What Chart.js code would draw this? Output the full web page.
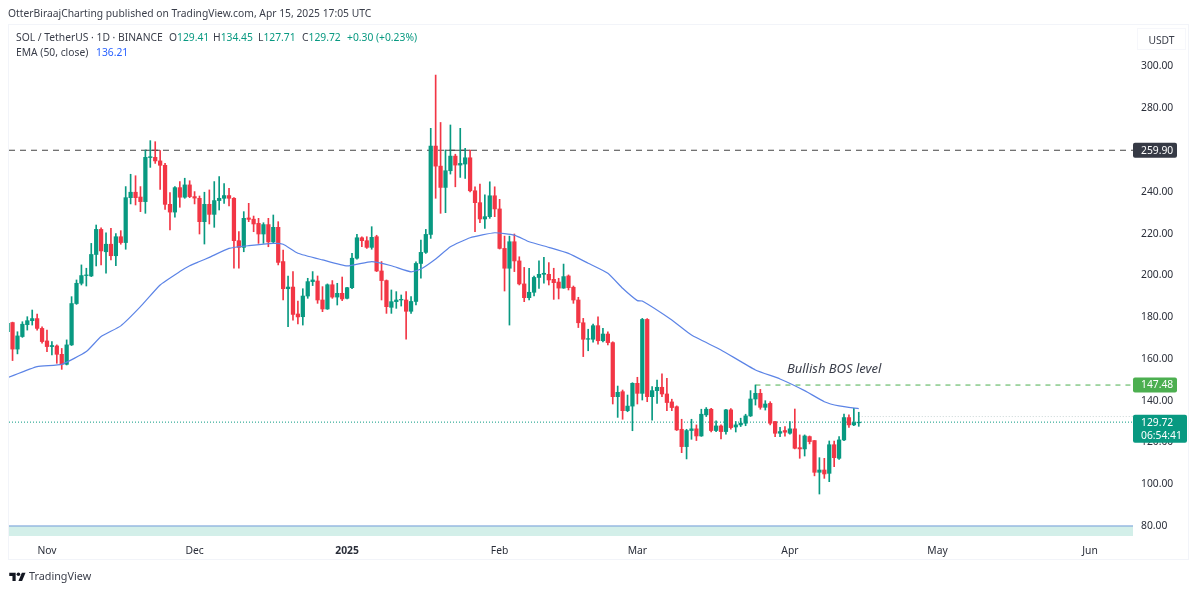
<!DOCTYPE html>
<html>
<head>
<meta charset="utf-8">
<title>SOL / TetherUS</title>
<script src="https://cdn.jsdelivr.net/npm/chart.js@4"></script>
<style>
  html, body { margin: 0; padding: 0; background: #fff; }
  body { width: 1200px; height: 592px; position: relative; overflow: hidden; font-family: "Noto Sans", sans-serif; color: #3a3e4a; }
  #grafico { position: absolute; left: 0; top: 0; }
  .txt { position: absolute; white-space: nowrap; font-size: 10.3px; line-height: 14px; }
  .teal { color: #089981; }
  #moldura { position: absolute; left: 8px; top: 24px; width: 1181px; height: 536px; border: 1px solid #f2f4f9; box-sizing: border-box; }
  #usdt { position: absolute; left: 1137px; top: 28px; width: 49px; height: 22px; line-height: 22px; text-align: center; font-size: 10.3px; border: 1px solid #f6f7fb; box-sizing: border-box; }
  #logo { position: absolute; left: 9px; top: 571px; }
</style>
</head>
<body>
<canvas id="grafico" width="1200" height="592"></canvas>
<div id="moldura"></div>
<div class="txt" style="left:8px;top:6px">OtterBiraajCharting published on TradingView.com, Apr 15, 2025 17:05 UTC</div>
<div class="txt" style="left:16px;top:30px">SOL / TetherUS · 1D · BINANCE</div>
<div class="txt" style="left:169px;top:30px">O<span class="teal">129.41</span></div>
<div class="txt" style="left:213px;top:30px">H<span class="teal">134.45</span></div>
<div class="txt" style="left:258px;top:30px">L<span class="teal">127.71</span></div>
<div class="txt" style="left:302px;top:30px">C<span class="teal">129.72</span></div>
<div class="txt teal" style="left:347px;top:30px">+0.30 (+0.23%)</div>
<div class="txt" style="left:16px;top:45px">EMA (50, close)</div>
<div class="txt" style="left:96px;top:45px;color:#2962ff">136.21</div>
<div id="usdt">USDT</div>
<svg id="logo" width="17" height="11" viewBox="0 0 36 24"><path fill="#131722" d="M14 22H7V11H0V4h14v18zM28 22h-8l7.5-18h8L28 22z"/><circle fill="#131722" cx="20" cy="7" r="4"/></svg>
<div class="txt" style="left:29px;top:569px;font-size:10.8px">TradingView</div>

<script>
const primeiroDia = '2024-10-24';

// ============================
// VELAS DIÁRIAS (out/24 a abr/25)
// ============================
const aberturas = [
  173, 177.4, 164.7, 170.7, 176.4, 178.3, 179.3, 174.6,
  168.6, 165.9, 166.2, 162.2, 157.4, 166.7, 186.5, 196.2, 199.9, 199.7, 210, 222, 211.3, 214.9, 209.4, 218.5, 215.7, 237.2, 239.8, 237.5, 235.3, 256.4, 256.5, 254.8, 252.7, 234, 230.3, 242, 237.4, 243.3,
  237.7, 236.9, 225.7, 234, 229.2, 235.8, 236.9, 238.2, 236.9, 216.6, 213.4, 227.5, 226.9, 224.9, 219.8, 224.3, 216, 223, 206.6, 193.6, 194.4, 181.5, 180.2, 190.1, 197, 197.3, 188.2, 183.9, 195.5, 189.6, 191.4,
  189, 194.1, 208.2, 218, 216.6, 213.4, 218.5, 202.1, 197.5, 184.7, 187.4, 188.2, 188.2, 182.8, 187.5, 205.7, 211, 219.6, 261.9, 252.3, 242.1, 250.1, 257.1, 252.8, 253.3, 256.3, 240.5, 234.8, 227, 228.1, 238.1,
  231.8, 212.9, 203.4, 216.1, 206.9, 195.9, 189.3, 191.9, 199, 200.5, 200.5, 198.1, 196.8, 193.9, 199.7, 194.3, 188.2, 177.3, 169.4, 169.4, 175.9, 168.7, 171.9, 167.8, 141.9, 144.3, 135.2, 137.4,
  148.3, 143.5, 178.9, 141.9, 144.8, 146.4, 143.2, 139.4, 137.1, 126.3, 118, 125.7, 126.5, 123.1, 133.2, 135.9, 125.7, 127.9, 125.2, 135.6, 127.4, 128.4, 129.2, 132.7, 140.8, 143.5, 136.8, 138.7, 130, 124.4, 125.7,
  124.4, 126.5, 117.5, 116.9, 122.8, 120.9, 105.7, 106.8, 105.2, 118.9, 112.4, 121.2, 131.9, 128.4, 129.41
];
const maximas = [
  177.5, 177.6, 173, 177.8, 180.2, 183.4, 181.5, 175.4,
  173.8, 168.3, 166.7, 165, 169.1, 189.8, 197.8, 205, 203.4, 215.3, 224.1, 222.8, 220.4, 222.5, 220, 221.4, 242.5, 248.4, 247.7, 242.5, 260, 264.5, 264, 259.7, 253.6, 239.6, 242.5, 244.9, 246.5, 245.3,
  240.1, 238, 239.8, 240.9, 244.9, 247.3, 244, 241.7, 237.2, 220.9, 230.5, 234.5, 228.4, 227.3, 225.2, 227.3, 228.9, 225.7, 212.1, 199.7, 201.8, 187.7, 193.6, 198.6, 201.8, 199.7, 194.6, 195.9, 197.5, 196.2, 199.2,
  194.3, 210.6, 219.6, 218.5, 218.5, 223.3, 219.2, 206.6, 197.8, 193, 192.2, 190.6, 192.2, 189.8, 206.5, 216.9, 222, 270.4, 295.9, 273.2, 260, 272, 258, 270.4, 260.8, 260, 242.4, 243.7, 238.5, 244.8, 242.4,
  236.4, 218.8, 218.8, 219.8, 208.9, 203.8, 203.4, 199.7, 207, 208.6, 206.1, 203.4, 198.6, 205.4, 200.2, 194.9, 189.5, 179.4, 174.2, 176.7, 180.2, 174.6, 173, 168.2, 147, 145.1, 142.7, 148.6,
  151.2, 179.4, 179.3, 146.7, 149.9, 152.8, 150.7, 140.7, 137.5, 131.1, 126.3, 131.1, 128.4, 135.9, 136.7, 136.3, 130.4, 128.4, 135.9, 136.2, 130, 131.6, 133.5, 144.8, 147.5, 145.4, 140, 139.5, 130, 127.2, 127.6,
  130, 136, 123.6, 123.6, 123.1, 120.9, 112.7, 112.4, 120.7, 120.7, 122.8, 133.6, 133.2, 136.3, 134.45
];
const minimas = [
  171, 159.2, 162.4, 170.3, 173.8, 176.2, 173.8, 167.5,
  163.5, 161.9, 157.9, 155, 157.1, 166.4, 186.1, 195.4, 194.9, 199.4, 204.5, 205, 201, 207.4, 204.6, 214.9, 212.5, 234.2, 233.7, 230.5, 229.7, 251.7, 253.6, 241.2, 231.6, 221.7, 227.8, 232.6, 236.9, 237.2,
  234.2, 219.8, 215, 224.6, 223, 231.3, 234.5, 233.2, 203.4, 203.4, 211.3, 225.7, 220.9, 215.3, 215.3, 213.7, 215.3, 205, 188.2, 175.4, 178.6, 176.7, 176.2, 189, 195.1, 186.6, 182.6, 183.7, 189, 185.8, 187.9,
  188.7, 193.6, 207.7, 213.7, 212.9, 212.5, 201.8, 188.2, 181.8, 181.8, 184.2, 185.3, 169.4, 181.8, 185.8, 198.6, 210.5, 217.7, 236.9, 229.7, 230, 248.5, 242.4, 246.9, 246.4, 240, 220.9, 225.2, 222.5, 227.3, 228.1,
  212.6, 192.5, 176.2, 201.8, 195.4, 187.4, 188.2, 190.1, 193.8, 196.2, 195.4, 188.5, 188.7, 193.8, 193, 186.6, 175, 161.1, 163.9, 168, 167.1, 168.1, 166.7, 138.4, 132, 131.1, 134.7, 125.6,
  138.4, 140.3, 139.5, 130.7, 138.7, 141.9, 135.2, 135.2, 125.7, 115.1, 112.1, 121.5, 120.9, 122.9, 132.4, 125, 125.2, 121.7, 124, 126.3, 125, 127.6, 128, 132.4, 137.9, 135.9, 135.5, 128.4, 122.8, 122.8, 123,
  124, 116.9, 112.4, 113.5, 119.3, 104, 95.3, 102.8, 101.2, 108.4, 111.9, 120.9, 127.2, 128, 127.71
];
const fechamentos = [
  177, 164.7, 171, 176.6, 178.3, 179.3, 174.6, 168.3,
  165.9, 166.4, 162.2, 157.4, 166.7, 186.5, 196.2, 199.9, 200.2, 210, 222, 211.7, 214.9, 209.4, 218.5, 215.7, 237.2, 239.8, 237.2, 235.3, 256.5, 256.8, 254.8, 252.7, 234, 230.3, 242, 237.4, 243.3, 237.7,
  237, 225.7, 234, 229.2, 235.8, 236.9, 238.2, 236.9, 216.6, 213.4, 227.3, 226.8, 224.6, 219.8, 224.3, 216, 223, 206.2, 193.6, 194.4, 181.3, 180.1, 190.1, 197, 197.8, 188.2, 183.9, 195.5, 189.6, 191.4, 188.7,
  194.1, 208.2, 218, 216.6, 213.4, 218.2, 202.1, 197.5, 185, 187.4, 188.2, 188.5, 182.8, 187.5, 205.7, 211, 219.6, 261.9, 252.3, 242.1, 250.1, 257.1, 252.8, 253.6, 256.3, 240.5, 234.8, 227, 228.1, 238.1, 231.8,
  212.9, 203.4, 216.1, 206.9, 195.9, 189.3, 191.9, 199, 200.5, 201, 197.8, 196.5, 193.9, 199.4, 194.1, 188.2, 177.3, 169.4, 169.7, 175.9, 168.7, 171.9, 167.8, 141.9, 144, 135.2, 137.4, 148.3,
  143.5, 178.9, 141.9, 144.8, 146.4, 143.2, 139.1, 136.7, 126, 118, 125.7, 126.5, 123.1, 133.5, 135.9, 125.7, 127.9, 125.2, 135.6, 127.1, 128.4, 129.2, 132.7, 140.8, 143.5, 136.8, 138.4, 129.2, 124.4, 125.2, 124.9,
  126.5, 117.2, 116.9, 123.1, 120.4, 105.7, 106.8, 104.9, 118.9, 112.7, 121.2, 131.9, 128.4, 129.5, 129.72
];

// ============================
// EMA 50
// ============================
const emaDatas = [
  '2024-10-24', '2024-10-30', '2024-11-04', '2024-11-09', '2024-11-12', '2024-11-16', '2024-11-20', '2024-11-24', '2024-11-28', '2024-11-30',
  '2024-12-02', '2024-12-04', '2024-12-08', '2024-12-12', '2024-12-17', '2024-12-19', '2024-12-22', '2024-12-27', '2025-01-01', '2025-01-06',
  '2025-01-10', '2025-01-14', '2025-01-16', '2025-01-19', '2025-01-22', '2025-01-26', '2025-01-31', '2025-02-04', '2025-02-07', '2025-02-11',
  '2025-02-15', '2025-02-19', '2025-02-23', '2025-02-26', '2025-03-01', '2025-03-02', '2025-03-08', '2025-03-12', '2025-03-18', '2025-03-25',
  '2025-03-30', '2025-04-04', '2025-04-08', '2025-04-11', '2025-04-15'
];
const emaValores = [
  151, 156.3, 157.4, 163.5, 170.7, 175.8, 185, 195.4, 201.8, 204.6,
  206.6, 208.6, 212.9, 214.2, 215.3, 214.9, 210.6, 207.4, 204.5, 206.6,
  204.6, 201.7, 203, 207.8, 213.7, 218, 220.4, 219.3, 216.1, 213.4,
  210.5, 205.8, 201, 193.8, 187.9, 187.7, 178.6, 171.4, 164.3, 154.7,
  150.4, 144.8, 139.5, 137.5, 136.2
];

// ============================
// NÍVEIS E EIXOS
// ============================
const resistencia = 259.9;
const toposResistencia = [['2024-11-21', '2024-11-24'], ['2025-01-21', '2025-01-26']];
const nivelBos = 147.48;
const inicioBos = '2025-03-25';
const ultimoPreco = 129.72;
const abertoPontilhado = 132.4;
const ultimaVela = '2025-04-15';
const nivelFaixa = 80;

const precosEixo = [80, 100, 120, 140, 160, 180, 200, 220, 240, 260, 280, 300];
const mesesDatas = ['2024-11-01', '2024-12-01', '2025-01-01', '2025-02-01', '2025-03-01', '2025-04-01', '2025-05-01', '2025-06-01'];
const mesesRotulos = ['Nov', 'Dec', '2025', 'Feb', 'Mar', 'Apr', 'May', 'Jun'];

const VERDE = '#089981';
const VERMELHO = '#f23645';
const FONTE = '"Noto Sans", sans-serif';

const xMin = 0.28, xMax = 228.74;
const yMin = 75.2, yMax = 320.35;

function diaDe(data) {
  return (Date.parse(data) - Date.parse(primeiroDia)) / 86400000;
}

const coresVelas = aberturas.map((a, i) => fechamentos[i] >= a ? VERDE : VERMELHO);

function linhaHorizontal(valor, de, ate, cor, extra) {
  return Object.assign({
    type: 'line',
    data: [{ x: de, y: valor }, { x: ate, y: valor }],
    borderColor: cor,
    borderWidth: 1,
    pointRadius: 0,
    order: 3
  }, extra);
}

// ============================
// ETIQUETAS DE PREÇO
// ============================
const etiquetas = {
  id: 'etiquetas',
  afterDraw(chart) {
    const ctx = chart.ctx;
    const y = chart.scales.y;
    const x = chart.scales.x;
    const esquerda = x.right;

    function caixa(valor, largura, altura, cor, linhas) {
      const yc = y.getPixelForValue(valor);
      const topo = yc - (linhas.length > 1 ? 7.5 : altura / 2);
      ctx.fillStyle = cor;
      ctx.beginPath();
      ctx.roundRect(esquerda, topo, largura, altura, 2);
      ctx.fill();
      ctx.font = '10.3px ' + FONTE;
      ctx.textBaseline = 'middle';
      ctx.textAlign = 'left';
      ctx.fillStyle = '#fff';
      linhas.forEach((t, i) => ctx.fillText(t, esquerda + 8, topo + 8 + i * 13));
    }

    ctx.save();
    caixa(resistencia, 44, 15, '#363a45', [resistencia.toFixed(2)]);
    caixa(nivelBos, 44, 15, '#4caf50', [nivelBos.toFixed(2)]);
    caixa(ultimoPreco, 54, 28, VERDE, [ultimoPreco.toFixed(2), '06:54:41']);

    ctx.font = 'italic 13px ' + FONTE;
    ctx.fillStyle = '#3a3e4a';
    ctx.textAlign = 'center';
    ctx.textBaseline = 'middle';
    ctx.fillText('Bullish BOS level', x.getPixelForValue(168), y.getPixelForValue(155));
    ctx.restore();
  }
};

// ============================
// GRÁFICO
// ============================
const ctx = document.getElementById('grafico').getContext('2d');

new Chart(ctx, {
  type: 'bar',
  data: {
    datasets: [
      {
        label: 'Corpo',
        data: aberturas.map((a, i) => ({ x: i, y: [a, fechamentos[i]] })),
        backgroundColor: coresVelas,
        barThickness: 3.6,
        grouped: false,
        order: 1
      },
      {
        label: 'Pavio',
        data: minimas.map((m, i) => ({ x: i, y: [m, maximas[i]] })),
        backgroundColor: coresVelas,
        barThickness: 1,
        grouped: false,
        order: 2
      },
      {
        type: 'line',
        label: 'EMA (50, close)',
        data: emaDatas.map((d, i) => ({ x: diaDe(d), y: emaValores[i] })),
        borderColor: '#5c84e6',
        borderWidth: 1.2,
        pointRadius: 0,
        tension: 0.15,
        order: 0
      },
      linhaHorizontal(nivelFaixa, xMin, xMax, '#6f9bd8', { fill: 'start', backgroundColor: '#d3efe9', label: 'Faixa' }),
      linhaHorizontal(resistencia, xMin, xMax, '#444', { borderDash: [6, 5], label: 'Resistência' }),
      ...toposResistencia.map(t => linhaHorizontal(resistencia, diaDe(t[0]), diaDe(t[1]), '#444', { label: 'Topo' })),
      linhaHorizontal(nivelBos, diaDe(inicioBos), xMax, '#4caf50', { borderDash: [5, 5], label: 'BOS' }),
      linhaHorizontal(ultimoPreco, xMin, xMax, VERDE, { borderDash: [1, 2], label: 'Último' }),
      linhaHorizontal(abertoPontilhado, diaDe(ultimaVela), xMax, '#c9d6d6', { borderDash: [1, 2], label: 'Pontilhado' })
    ]
  },
  options: {
    responsive: false,
    animation: false,
    devicePixelRatio: 1,
    layout: { padding: { left: 9, top: 24, right: 0, bottom: 32 } },
    plugins: {
      legend: { display: false },
      tooltip: { enabled: false }
    },
    scales: {
      x: {
        type: 'linear',
        offset: false,
        min: xMin,
        max: xMax,
        grid: { display: false },
        border: { display: false },
        afterBuildTicks: s => { s.ticks = mesesDatas.map(d => ({ value: diaDe(d) })); },
        afterFit: s => { s.height = 24; },
        ticks: {
          autoSkip: false,
          maxRotation: 0,
          padding: 1,
          color: '#2a2e39',
          font: c => ({ family: FONTE, size: 10.3, weight: c.index === 2 ? 'bold' : 'normal' }),
          callback: (v, i) => mesesRotulos[i]
        }
      },
      y: {
        position: 'right',
        min: yMin,
        max: yMax,
        grid: { display: false, drawTicks: false },
        border: { display: false },
        afterBuildTicks: s => { s.ticks = precosEixo.map(v => ({ value: v })); },
        afterFit: s => { s.width = 67; },
        ticks: {
          padding: 8,
          color: '#2a2e39',
          font: { family: FONTE, size: 10.3 },
          callback: v => v.toFixed(2)
        }
      }
    }
  },
  plugins: [etiquetas]
});
</script>
</body>
</html>
